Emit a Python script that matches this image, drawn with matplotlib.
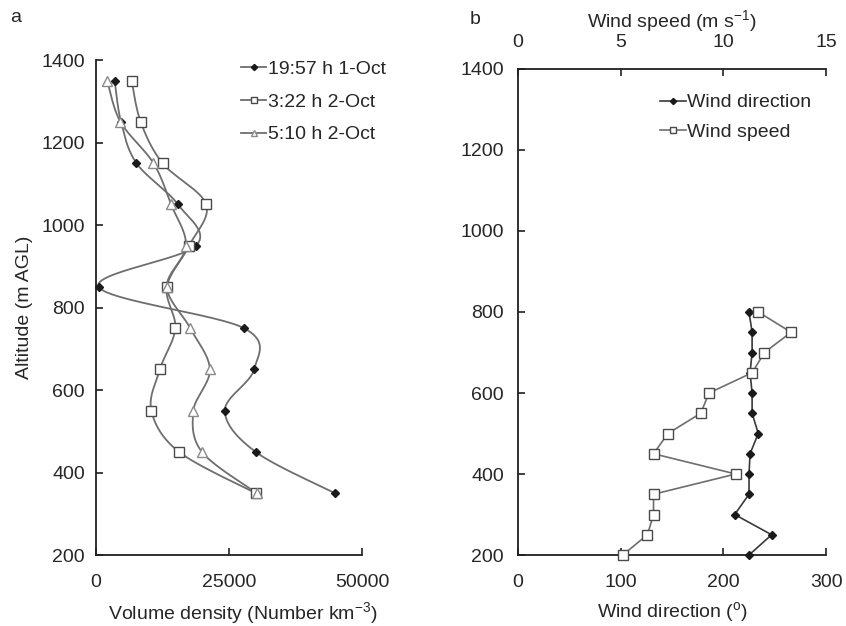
import matplotlib.pyplot as plt
import numpy as np

plt.rcParams['font.family'] = ['Liberation Sans', 'DejaVu Sans']
plt.rcParams['mathtext.fontset'] = 'custom'
plt.rcParams['mathtext.rm'] = 'Liberation Sans'
plt.rcParams['mathtext.it'] = 'Liberation Sans:italic'

# ---- panel a data ----
alt_a = [1350, 1250, 1150, 1050, 950, 850, 750, 650, 550, 450, 350]
dens_1957 = [3500, 4700, 7600, 15400, 18800, 500, 27800, 29700, 24200, 30000, 44900]
dens_0322 = [6700, 8400, 12500, 20700, 17500, 13300, 14900, 12000, 10400, 15600, 30000]
dens_0510 = [2100, 4600, 10800, 14100, 16900, 13300, 17700, 21400, 18300, 19900, 30200]
labels_a = ['19:57 h 1-Oct', '3:22 h 2-Oct', '5:10 h 2-Oct']

# ---- panel b data ----
alt_b = [800, 750, 700, 650, 600, 550, 500, 450, 400, 350, 300, 250, 200]
wind_dir = [225, 228, 228, 226, 228, 228, 234, 226, 225, 225, 211, 247, 225]
wind_spd = [11.7, 13.3, 12.0, 11.4, 9.3, 8.9, 7.3, 6.6, 10.6, 6.6, 6.6, 6.3, 5.1]

LINE = '#6e6e6e'
TXT = '#262626'


def smooth(ax, xs, ys, n=30):
    # excel-like smoothed line: catmull-rom bezier in screen space
    pts = ax.transData.transform(np.column_stack([xs, ys]))
    P = np.vstack([pts[0], pts, pts[-1]])
    out = []
    for i in range(1, len(P) - 2):
        p0, p1, p2, p3 = P[i - 1], P[i], P[i + 1], P[i + 2]
        c1 = p1 + (p2 - p0) / 6
        c2 = p2 - (p3 - p1) / 6
        t = np.linspace(0, 1, n)[:, None]
        seg = ((1 - t) ** 3) * p1 + 3 * ((1 - t) ** 2) * t * c1 + 3 * (1 - t) * t ** 2 * c2 + t ** 3 * p2
        out.append(seg)
    out = np.vstack(out)
    return ax.transData.inverted().transform(out)


def style(ax):
    for s in ax.spines.values():
        s.set_color('#202020')
        s.set_linewidth(1.3)
    ax.tick_params(direction='in', length=5, width=1.2, labelsize=14, colors='#202020',
                   labelcolor=TXT, pad=8)


fig = plt.figure(figsize=(8.46, 6.26), dpi=100)

# ---------------- panel a ----------------
ax1 = fig.add_axes([0.1135, 0.1134, 0.3145, 0.7906])
ax1.set_xlim(0, 50000)
ax1.set_ylim(200, 1400)
ax1.set_xticks([0, 25000, 50000])
ax1.set_yticks(range(200, 1401, 200))
ax1.spines['top'].set_visible(False)
ax1.spines['right'].set_visible(False)
style(ax1)
ax1.tick_params(axis='x', pad=14)

marker_styles = [
    dict(marker='D', markersize=4.5, markerfacecolor='#1a1a1a', markeredgecolor='#1a1a1a'),
    dict(marker='s', markersize=6.5, markerfacecolor='white', markeredgecolor='#4a4a4a', markeredgewidth=1.0),
    dict(marker='^', markersize=7, markerfacecolor='white', markeredgecolor='#8a8a8a', markeredgewidth=1.0),
]
for vals, lab, ms in zip([dens_1957, dens_0322, dens_0510], labels_a, marker_styles):
    curve = smooth(ax1, vals, alt_a)
    ax1.plot(curve[:, 0], curve[:, 1], color=LINE, lw=1.3, clip_on=False)
    ax1.plot(vals, alt_a, linestyle='none', clip_on=False, zorder=3, **ms)
    ax1.plot([], [], color=LINE, lw=1.3, label=lab, **ms)

ax1.set_xlabel('Volume density (Number km$^{\\mathregular{-3}}$)', fontsize=14, color=TXT, labelpad=6)
ax1.xaxis.label.set_x(0.55)
ax1.set_ylabel('Altitude (m AGL)', fontsize=14, color=TXT, labelpad=6)
ax1.legend(loc='upper right', bbox_to_anchor=(1.157, 1.035), frameon=False, fontsize=14,
           handlelength=1.3, handletextpad=0.1, labelspacing=0.78, markerscale=0.7, labelcolor=TXT)
fig.text(0.012, 0.965, 'a', fontsize=14, color=TXT)

# ---------------- panel b ----------------
ax2 = fig.add_axes([0.6123, 0.1134, 0.3641, 0.7764])
ax2.set_xlim(0, 300)
ax2.set_ylim(200, 1400)
ax2.set_xticks([0, 100, 200, 300])
ax2.set_yticks(range(200, 1401, 200))
ax2.spines['top'].set_visible(False)
ax2.spines['right'].set_visible(False)
style(ax2)
ax2.tick_params(axis='x', pad=14)
ax2.tick_params(axis='y', pad=10)

ax3 = ax2.twiny()
ax3.set_xlim(0, 15)
ax3.set_xticks([0, 5, 10, 15])
for s in ['right', 'bottom', 'left']:
    ax3.spines[s].set_visible(False)
style(ax3)
ax3.tick_params(pad=13)

l1, = ax2.plot(wind_dir, alt_b, color='#3a3a3a', lw=1.2, marker='D', markersize=4.5,
               markerfacecolor='#1a1a1a', markeredgecolor='#1a1a1a', clip_on=False, zorder=4,
               label='Wind direction')
l2, = ax3.plot(wind_spd, alt_b, color=LINE, lw=1.2, marker='s', markersize=6.5,
               markerfacecolor='white', markeredgecolor='#4a4a4a', markeredgewidth=1.0,
               clip_on=False, label='Wind speed')

ax2.set_xlabel('Wind direction ($^{\\mathregular{o}}$)', fontsize=14, color=TXT, labelpad=6)
ax3.set_xlabel('Wind speed (m s$^{\\mathregular{-1}}$)', fontsize=14, color=TXT, labelpad=5)
ax3.legend([l1, l2], ['Wind direction', 'Wind speed'], loc='upper right', bbox_to_anchor=(1.01, 0.985),
           frameon=False, fontsize=14, handlelength=1.3, handletextpad=0.1, labelspacing=0.6,
           markerscale=0.7, labelcolor=TXT)
fig.text(0.555, 0.962, 'b', fontsize=14, color=TXT)

fig.savefig('out.png', dpi=100)
